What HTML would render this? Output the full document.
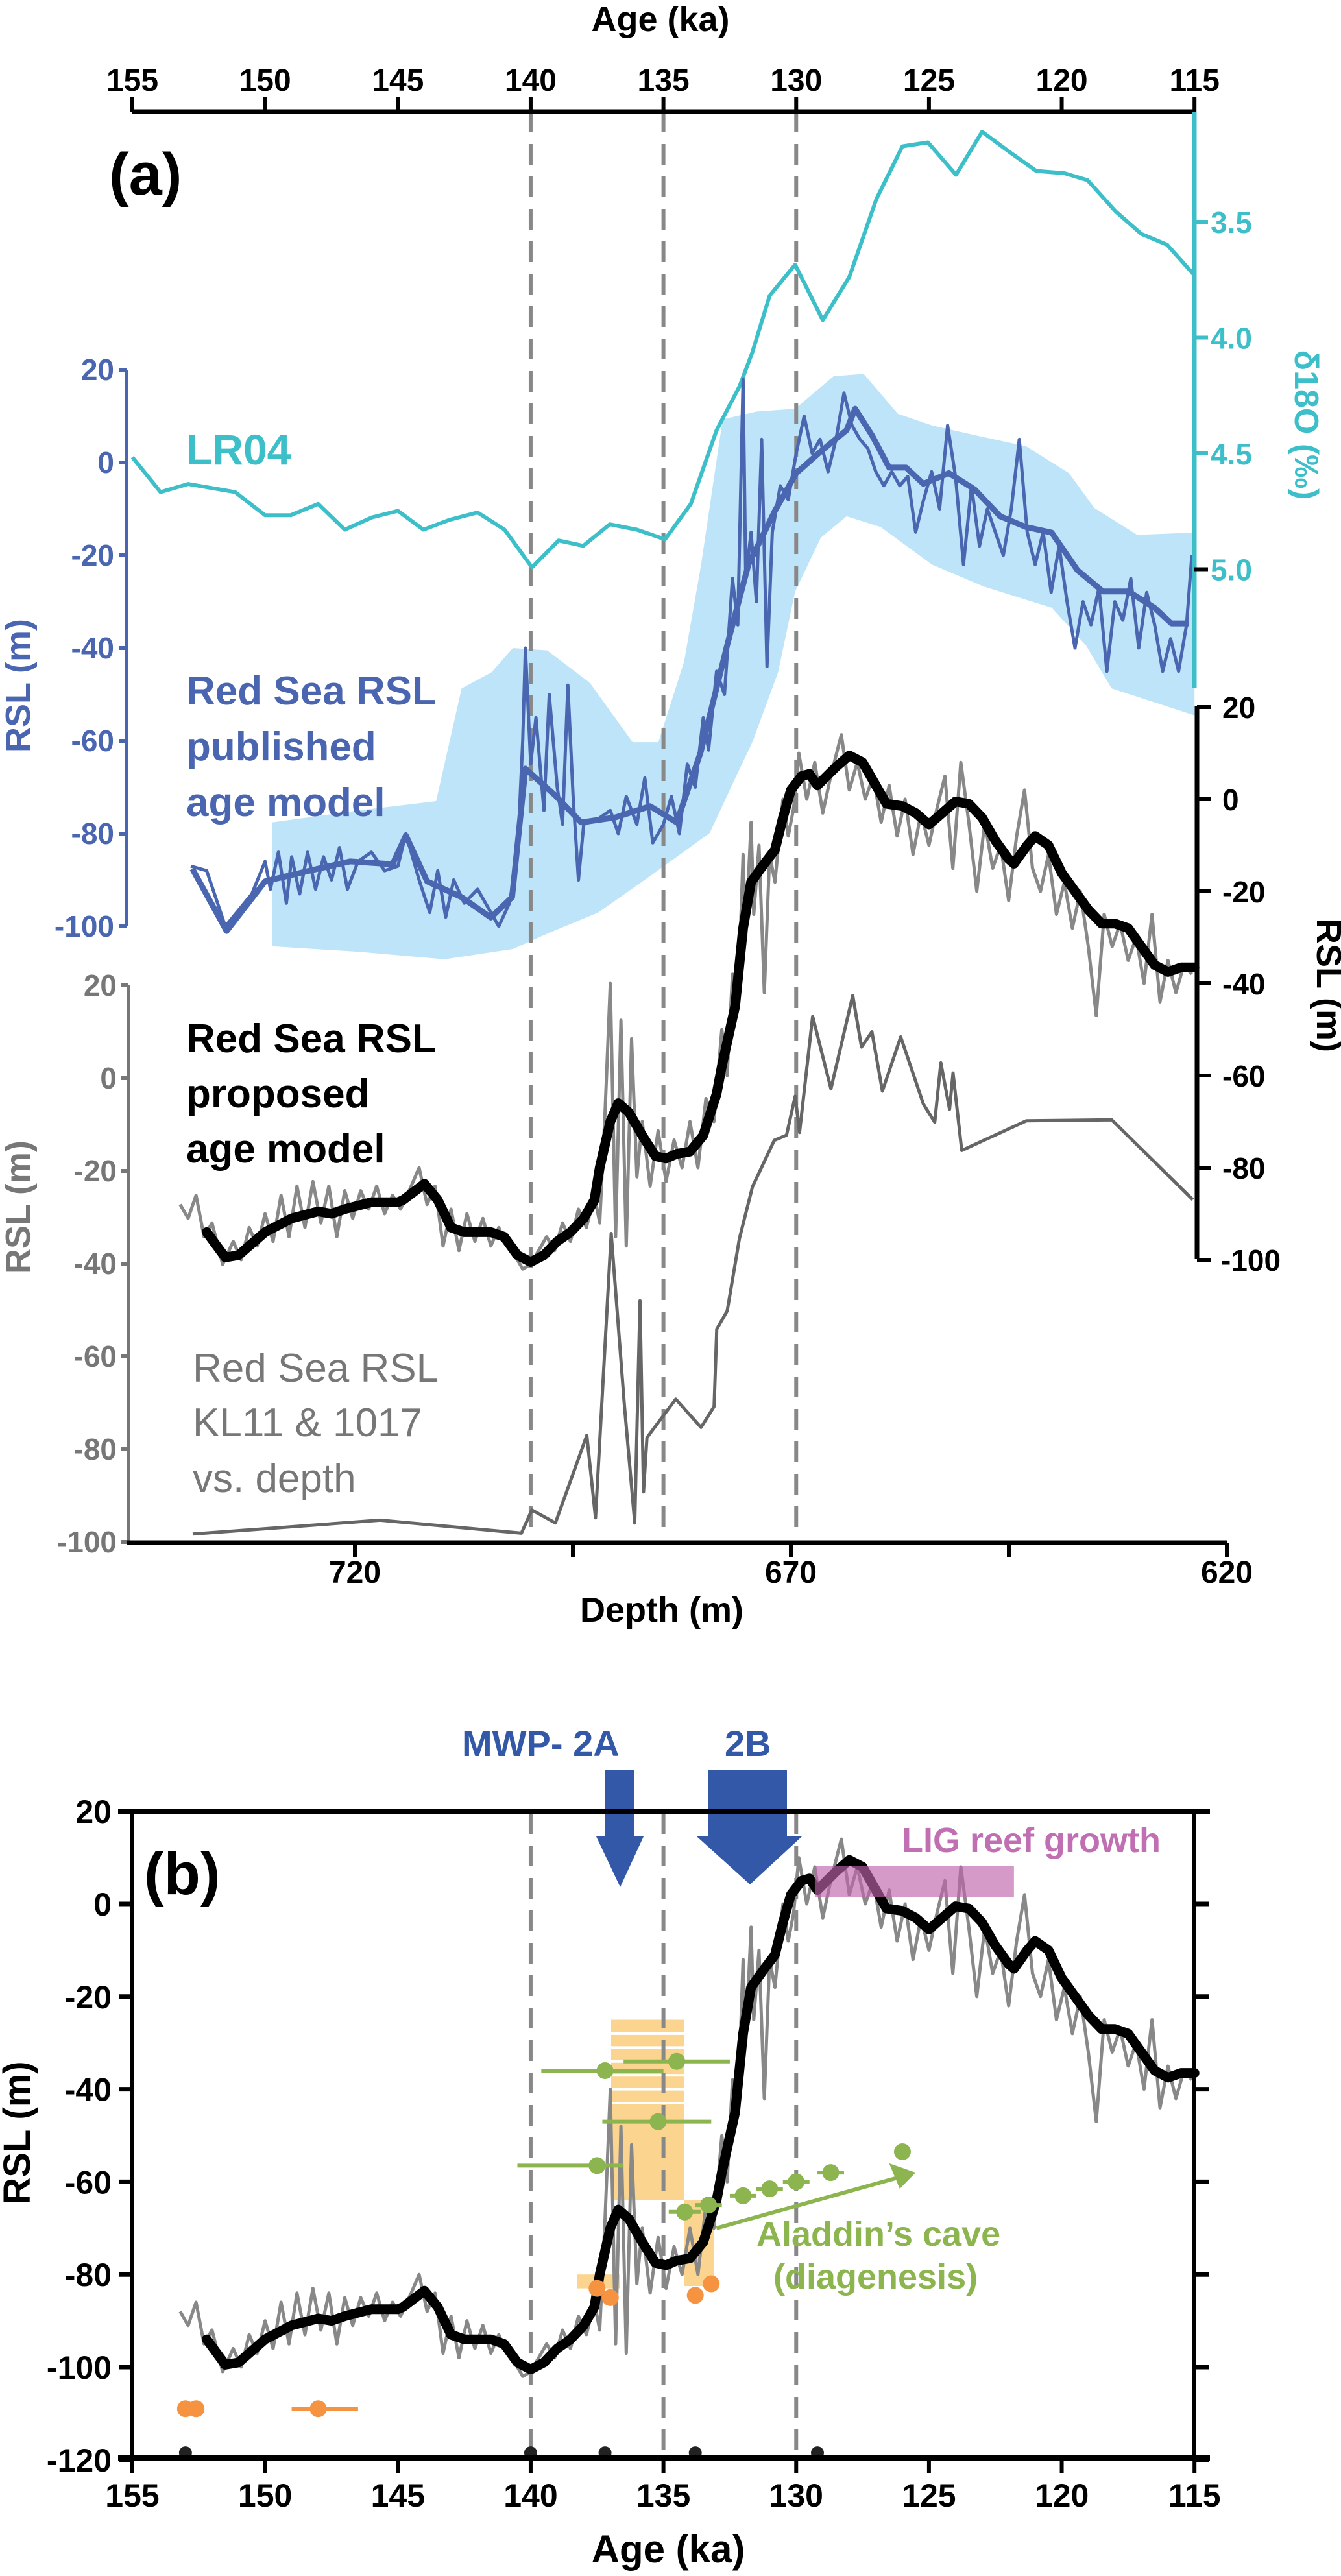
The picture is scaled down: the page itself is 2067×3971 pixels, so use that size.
<!DOCTYPE html>
<html><head><meta charset="utf-8"><style>
html,body{margin:0;padding:0;background:#fff;}
svg text{font-family:"Liberation Sans",Arial,sans-serif;}
</style></head>
<body>
<svg id="fig" xmlns="http://www.w3.org/2000/svg" width="2067" height="3966" viewBox="0 0 2067 3966">
<rect width="2067" height="3966" fill="#fff"/>
</svg>
<script>
// ---- DATA ----
const lr04Age=[155,153.94,152.9,151.13,150.0,149.04,148.0,147.0,145.97,145.0,144.04,143.07,142.0,140.98,139.95,138.95,138.02,137.02,136.0,134.94,133.97,133.0,132.13,131.65,131.0,130.04,129.0,128.0,126.98,126.0,125.04,123.98,123.0,121.9,120.96,119.9,119.03,117.97,117.0,116.03,115];
const lr04Val=[4.516,4.667,4.632,4.667,4.767,4.767,4.718,4.829,4.776,4.748,4.829,4.787,4.755,4.829,4.992,4.876,4.899,4.806,4.829,4.871,4.718,4.40,4.209,4.063,3.819,3.685,3.924,3.738,3.401,3.174,3.157,3.297,3.111,3.204,3.28,3.29,3.32,3.455,3.552,3.599,3.731];
const bandAge=[149.74,146.46,143.56,142.6,141.47,140.67,139.38,137.77,136.16,135.19,134.22,133.58,132.77,131.49,130.04,128.59,127.46,126.17,124.89,123.28,121.34,119.73,118.77,117.16,115];
const bandTop=[-77.6,-75,-73,-48.7,-45.2,-40,-40.5,-47.5,-60.3,-60.3,-42.9,-22,9.3,11,11.6,18.6,19.1,10.5,8,5.9,3.5,-2.3,-9.8,-15.6,-15.1];
const bandBotAge=[149.74,146.46,143.24,140.67,139.38,137.45,135.51,133.26,132.29,131.65,130.68,130.04,129.07,128.1,126.82,124.89,122.95,120.38,119.09,118.12,115];
const bandBot=[-104.3,-105.5,-107.1,-104.9,-101.6,-97,-89.2,-79.9,-68,-60.3,-45.2,-27.8,-16.2,-11.6,-13.9,-22,-26.7,-31.3,-39.4,-48.7,-54.5];
const pubSmoothAge=[152.74,151.45,150,148.4,146.8,145.2,144.7,143.9,142.6,141.5,140.7,140.2,139.05,138.1,136.8,135.5,134.5,133.6,132.6,131.8,130.8,130.0,129.07,128.1,127.78,127.14,126.5,125.86,125.21,124.25,123.28,122.32,121.35,120.38,119.41,118.45,117.48,116.51,115.87,115.2];
const pubSmoothVal=[-87.6,-101,-90.3,-88.1,-86,-86.6,-80.4,-90.3,-93.7,-98.1,-93.7,-66,-71.9,-77.6,-76.5,-74.1,-77.6,-62.5,-39.4,-22,-10.4,-2.3,2.4,7,11.6,5.8,-1.1,-1.1,-4.6,-2.3,-5.8,-11.6,-13.9,-15.1,-23.2,-27.8,-27.8,-31.3,-34.7,-34.7];
const pubRawAge=[152.8,152.2,151.5,150.5,150,149.8,149.5,149.2,149,148.7,148.4,148.1,147.8,147.5,147.2,146.9,146.5,146,145.5,145,144.7,144.2,143.8,143.5,143.2,142.9,142.5,142,141.5,141.2,140.8,140.5,140.3,140.2,140,139.8,139.5,139.3,139.0,138.8,138.6,138.4,138.2,138,137.5,137,136.7,136.4,136,135.7,135.4,135,134.7,134.4,134.1,133.8,133.5,133.3,133,132.7,132.4,132.2,132,131.9,131.7,131.5,131.3,131.1,130.9,130.6,130.3,130,129.7,129.4,129.1,128.8,128.5,128.2,127.9,127.6,127.3,127,126.7,126.4,126.1,125.8,125.5,125.2,124.9,124.6,124.3,124,123.7,123.4,123.1,122.8,122.5,122.2,121.9,121.6,121.3,121,120.7,120.4,120.1,119.8,119.5,119.2,118.9,118.6,118.3,118,117.7,117.4,117.1,116.8,116.5,116.2,115.9,115.6,115.3,115.1];
const pubRawVal=[-87,-88,-100,-93,-86,-92,-84,-95,-85,-93,-84,-92,-85,-90,-83,-92,-86,-84,-88,-87,-80,-90,-97,-88,-98,-90,-95,-92,-97,-100,-95,-85,-60,-40,-65,-55,-75,-50,-70,-78,-48,-72,-90,-78,-77,-75,-80,-72,-78,-68,-82,-78,-72,-80,-65,-70,-55,-62,-45,-50,-25,-35,18,-25,-15,-30,5,-44,-15,-5,-8,2,10,2,5,-2,5,15,8,5,3,-2,-5,-2,-5,-3,-15,-8,-2,-10,8,-3,-22,-5,-18,-10,-15,-20,-10,5,-15,-22,-15,-28,-18,-30,-40,-30,-35,-27,-45,-30,-34,-25,-40,-28,-35,-45,-38,-45,-35,-20];
const propAge=[152.2,151.5,151,150,149,148,147.5,147,146,145,144.8,144,143.5,143,142.5,141.5,141,140.5,140,139.5,139,138.5,138,137.6,137.4,137.0,136.7,136.3,135.8,135.3,134.9,134.5,134,133.5,133,132.8,132.3,132,131.7,131.2,130.8,130.5,130.2,129.8,129.5,129.2,128.5,128,127.5,127,126.6,126,125.5,125,124.5,124,123.5,123,122.5,122,121.8,121.3,121,120.5,120,119.5,119,118.5,118,117.5,117,116.5,116,115.5,115];
const propVal=[-94,-99.5,-99,-94,-91,-89.5,-90,-89,-87.5,-87.5,-87,-83.5,-87,-93,-94,-94,-95,-99,-100.5,-99,-96,-94,-91,-87,-80,-70,-66,-68,-73,-77.5,-78,-77,-76.5,-73,-64,-58,-45,-28,-18,-14,-11,-4,2,5,5.5,3,7,9.5,8,3,-1,-1.5,-3,-5.5,-3,-0.5,-1,-4,-9,-13,-14,-10,-8,-10,-16,-20,-24,-27,-27,-28,-32,-36,-37.5,-36.5,-36.5];
const rawAge=[153.2,152.9,152.6,152.3,152,151.6,151.2,150.9,150.6,150.3,150,149.7,149.4,149.1,148.8,148.5,148.2,147.9,147.6,147.3,147,146.7,146.4,146.1,145.8,145.5,145.2,144.9,144.5,144.2,143.9,143.6,143.3,143,142.7,142.4,142.1,141.8,141.5,141.2,140.9,140.6,140.3,140,139.7,139.4,139.1,138.8,138.5,138.2,137.9,137.6,137.4,137.2,137.0,136.8,136.6,136.4,136.2,136,135.8,135.5,135.2,134.9,134.6,134.3,134,133.7,133.4,133.1,132.8,132.6,132.4,132.2,132,131.9,131.7,131.6,131.4,131.2,131,130.8,130.5,130.3,130.1,129.9,129.6,129.3,129,128.7,128.3,128,127.7,127.4,127.1,126.8,126.5,126.2,125.9,125.6,125.3,125,124.7,124.4,124.1,123.8,123.5,123.2,122.9,122.6,122.3,122,121.7,121.4,121.1,120.8,120.5,120.2,119.9,119.6,119.3,119,118.7,118.4,118.1,117.8,117.5,117.2,116.9,116.6,116.3,116,115.7,115.4,115.1];
const rawVal=[-88,-91,-86,-95,-92,-101,-96,-100,-93,-97,-90,-96,-86,-95,-84,-93,-83,-92,-84,-95,-85,-91,-85,-89,-84,-90,-86,-89,-84,-80,-88,-84,-97,-89,-98,-90,-96,-91,-97,-93,-97,-99,-102,-101,-98,-95,-98,-92,-96,-89,-93,-86,-92,-68,-40,-95,-48,-97,-52,-82,-70,-84,-72,-83,-74,-80,-70,-80,-65,-70,-50,-60,-38,-45,-12,-30,-5,-25,-10,-42,-12,-18,0,-8,-2,10,0,8,-3,5,14,2,8,0,5,-5,3,-8,0,-12,-3,-10,-2,5,-15,8,-5,-20,-5,-15,-10,-22,-8,2,-15,-20,-12,-25,-18,-28,-20,-32,-47,-25,-32,-27,-35,-30,-40,-25,-44,-35,-42,-36,-38];
const depthD=[738.6,717.1,700.9,699.7,697.0,693.4,692.4,690.6,689.1,687.9,687.3,686.9,686.5,683.2,680.3,678.8,678.5,677.3,675.9,674.4,671.9,670.5,669.5,669.0,667.5,665.4,662.9,661.9,660.7,659.5,657.4,654.8,653.5,652.8,651.8,651.4,650.4,643.0,633.2,623.9];
const depthVal=[-98.3,-95.3,-98.1,-93.1,-95.9,-77.0,-94.8,-33.5,-70.3,-95.9,-48.0,-89.2,-77.5,-69.2,-75.3,-70.8,-54.1,-50.2,-34.6,-23.4,-13.4,-12.3,-3.9,-11.7,13.3,-2.3,17.8,6.7,10.0,-2.8,8.9,-5.6,-9.5,3.3,-6.7,1.1,-15.6,-9.2,-9.0,-26.2];
const ageTicks=[155,150,145,140,135,130,125,120,115];
const depthTicks=[720,695,670,645,620];
const depthTickLabels=[720,670,620];
const d18Ticks=[3.5,4.0,4.5,5.0];
const rslTicks=[20,0,-20,-40,-60,-80,-100];
const rslTicksB=[20,0,-20,-40,-60,-80,-100,-120];
const dashedAges=[140,135,130];
const greenAge=[137.2,134.5,135.2,137.5,134.2,133.3,132,131,130,128.7,126];
const greenVal=[-36,-34,-47,-56.5,-66.5,-65,-63,-61.5,-60,-58,-53.5];
const greenErrLo=[139.6,136.5,137.3,140.5,134.8,133.8,132.5,131.5,130.5,129.2,126];
const greenErrHi=[135,132.5,133.2,136.5,133.6,132.8,131.5,130.5,129.5,128.2,126];
const orangeAge=[137.5,137,133.8,133.2,153,152.6,148];
const orangeVal=[-83,-85,-84.5,-82,-109,-109,-109];
const orangeErrLo=[137.5,137,133.8,133.2,153.3,153,149];
const orangeErrHi=[137.5,137,133.8,133.2,152.7,152.3,146.5];
const blackDotAge=[153,140,137.2,133.8,129.2];
const blackDotVal=[-118.5,-118.5,-118.5,-118.5,-118.5];

// ---- SCALES ----
const X=a=>204+(155-a)*40.93;
const XD=d=>547+(720-d)*13.44;
const YT=v=>342+(v-3.5)*357;
const YB=v=>713-v*7.15;       // published (blue)
const YP=v=>1232-v*7.1;       // proposed (black, panel a)
const YG=v=>1662-v*7.15;      // gray depth
const YR=v=>2935-v*7.14;      // panel b

const svg=document.getElementById('fig');
const NS='http://www.w3.org/2000/svg';
function el(tag,attrs,parent){const e=document.createElementNS(NS,tag);for(const k in attrs)e.setAttribute(k,attrs[k]);(parent||svg).appendChild(e);return e;}
function pts(xs,ys,fx,fy){return xs.map((a,i)=>fx(a).toFixed(1)+','+fy(ys[i]).toFixed(1)).join(' ');}
function txt(s,x,y,size,fill,opts){const t=el('text',Object.assign({x:x,y:y,'font-size':size,fill:fill,'font-weight':'bold'},opts||{}));t.textContent=s;return t;}

// ================= PANEL A =================
// band
let band=el('polygon',{points:pts(bandAge,bandTop,X,YB)+' '+pts(bandBotAge.slice().reverse(),bandBot.slice().reverse(),X,YB),fill:'#bde4f8'});


// dashed lines panel a
dashedAges.forEach(a=>{
 const l=el('line',{x1:X(a),x2:X(a),y1:172,y2:2370,stroke:'#888','stroke-width':6,'stroke-dasharray':'32 18'});
 
 
});
// LR04
let lr=el('polyline',{points:pts(lr04Age,lr04Val,X,YT),fill:'none',stroke:'#3dbfc9','stroke-width':6,'stroke-linejoin':'round'});


// published raw + smooth
let pr=el('polyline',{points:pts(pubRawAge,pubRawVal,X,YB),fill:'none',stroke:'#4a66b0','stroke-width':5,'stroke-linejoin':'round'});


let ps=el('polyline',{points:pts(pubSmoothAge,pubSmoothVal,X,YB),fill:'none',stroke:'#4a66b0','stroke-width':9,'stroke-linejoin':'round'});


// proposed raw + smooth (panel a)
let ra=el('polyline',{points:pts(rawAge,rawVal,X,YP),fill:'none',stroke:'#888','stroke-width':5,'stroke-linejoin':'round'});


let sa=el('polyline',{points:pts(propAge,propVal,X,YP),fill:'none',stroke:'#000','stroke-width':15,'stroke-linejoin':'round','stroke-linecap':'round'});


// depth curve
let dc=el('polyline',{points:pts(depthD,depthVal,XD,YG),fill:'none',stroke:'#666','stroke-width':5,'stroke-linejoin':'round'});



// top age axis
let ta=el('line',{x1:204,x2:1841,y1:172,y2:172,stroke:'#000','stroke-width':7});


ageTicks.forEach(a=>{
 el('line',{x1:X(a),x2:X(a),y1:150,y2:172,stroke:'#000','stroke-width':6});
 const t=txt(String(a),X(a),140,48,'#000',{'text-anchor':'middle'});
 
 
});
let tat=txt('Age (ka)',1018,48,54,'#000',{'text-anchor':'middle'});


let la=txt('(a)',168,300,92,'#000');



// teal right axis
let tax=el('line',{x1:1841,x2:1841,y1:172,y2:1061,stroke:'#3dbfc9','stroke-width':7});


d18Ticks.forEach(v=>{
 el('line',{x1:1841,x2:1862,y1:YT(v),y2:YT(v),stroke:v===5.0?'#000':'#3dbfc9','stroke-width':6});
 const t=txt(v.toFixed(1),1866,YT(v)+17,46,'#3dbfc9');
 
 
});
let dt=txt('δ18O (‰)',0,0,52,'#3dbfc9',{'text-anchor':'middle',transform:'translate(1996,655) rotate(90)'});



// blue left axis
let bax=el('line',{x1:195,x2:195,y1:570,y2:1428,stroke:'#4a66b0','stroke-width':6});


rslTicks.forEach(v=>{
 el('line',{x1:183,x2:195,y1:YB(v),y2:YB(v),stroke:'#4a66b0','stroke-width':6});
 const t=txt(String(v),176,YB(v)+16,46,'#4a66b0',{'text-anchor':'end'});
 
 
});
let bt=txt('RSL (m)',0,0,54,'#4a66b0',{'text-anchor':'middle',transform:'translate(46,1057) rotate(-90)'});



// black right axis (proposed)
let kax=el('line',{x1:1845,x2:1845,y1:1088,y2:1941,stroke:'#000','stroke-width':7});


rslTicks.forEach(v=>{
 el('line',{x1:1845,x2:1866,y1:YP(v),y2:YP(v),stroke:'#000','stroke-width':6});
 const t=txt(String(v),v===-100?1882:1884,YP(v)+17,46,'#000');
 
 
});
let kt=txt('RSL (m)',0,0,54,'#000',{'text-anchor':'middle',transform:'translate(2030,1519) rotate(90)'});



// gray left axis
let gax=el('line',{x1:198,x2:198,y1:1519,y2:2378,stroke:'#777','stroke-width':6});


rslTicks.forEach(v=>{
 el('line',{x1:186,x2:198,y1:YG(v),y2:YG(v),stroke:'#777','stroke-width':6});
 const t=txt(String(v),180,YG(v)+16,46,'#777',{'text-anchor':'end'});
 
 
});
let gt=txt('RSL  (m)',0,0,54,'#777',{'text-anchor':'middle',transform:'translate(46,1861) rotate(-90)'});



// depth axis
let dax=el('line',{x1:195,x2:1891,y1:2378,y2:2378,stroke:'#000','stroke-width':7});


depthTicks.forEach(d=>{el('line',{x1:XD(d),x2:XD(d),y1:2378,y2:2400,stroke:'#000','stroke-width':6});});
depthTickLabels.forEach(d=>{
 const t=txt(String(d),XD(d),2440,48,'#000',{'text-anchor':'middle'});
 
 
});
let dtt=txt('Depth (m)',1020,2500,54,'#000',{'text-anchor':'middle'});



// labels panel a
let l1=txt('LR04',287,716,66,'#3dbfc9');


[['Red Sea RSL',1086],['published',1172],['age model',1258]].forEach(([s,y])=>{
 const t=txt(s,287,y,62,'#4a66b0');
 
 
});
[['Red Sea RSL',1622],['proposed',1707],['age model',1792]].forEach(([s,y])=>{
 const t=txt(s,287,y,62,'#000');
 
 
});
[['Red Sea RSL',2130],['KL11 & 1017',2214],['vs. depth',2300]].forEach(([s,y])=>{
 const t=txt(s,297,y,62,'#777',{'font-weight':'normal'});
 
 
});

// ================= PANEL B =================
// orange boxes
let ob1=el('rect',{x:942,y:YR(-25),width:112,height:YR(-64)-YR(-25),fill:'#fbd58f'});


[-28,-31,-34,-37,-40,-43].forEach(v=>{el('rect',{x:942,y:YR(v)-2,width:112,height:4,fill:'#fff'});});
let ob2=el('rect',{x:1054,y:YR(-64),width:46,height:YR(-82.5)-YR(-64),fill:'#fbd58f'});


let ob3=el('rect',{x:890,y:YR(-80),width:66,height:YR(-83)-YR(-80),fill:'#fbd58f'});


// dashed lines b
dashedAges.forEach(a=>{
 const l=el('line',{x1:X(a),x2:X(a),y1:2795,y2:3789,stroke:'#888','stroke-width':6,'stroke-dasharray':'32 18'});
 
 
});
let rb=el('polyline',{points:pts(rawAge,rawVal,X,YR),fill:'none',stroke:'#888','stroke-width':5,'stroke-linejoin':'round'});


let sb=el('polyline',{points:pts(propAge,propVal,X,YR),fill:'none',stroke:'#000','stroke-width':15,'stroke-linejoin':'round','stroke-linecap':'round'});


// LIG box
let lig=el('rect',{x:X(129.3),y:2877,width:X(121.8)-X(129.3),height:47,fill:'rgba(190,100,170,0.65)'});


let ligt=txt('LIG reef growth',1390,2855,54,'#c06fb3');


// green
greenAge.forEach((a,i)=>{
 const g=el('g',{});
 
 
 el('line',{x1:X(greenErrLo[i]),x2:X(greenErrHi[i]),y1:YR(greenVal[i]),y2:YR(greenVal[i]),stroke:'#8cb44f','stroke-width':6},g);
 el('circle',{cx:X(a),cy:YR(greenVal[i]),r:13,fill:'#8cb44f'},g);
});
let ga=el('line',{x1:X(133),y1:YR(-70),x2:X(125.8),y2:YR(-58.5),stroke:'#8cb44f','stroke-width':6});


el('polygon',{points:`${X(125.5)},${YR(-58)} ${X(126.5)},${YR(-56)} ${X(126.1)},${YR(-61.5)}`,fill:'#8cb44f'});
let at1=txt('Aladdin’s cave',1166,3462,54,'#8cb44f');


let at2=txt('(diagenesis)',1192,3528,54,'#8cb44f');


// orange
orangeAge.forEach((a,i)=>{
 const g=el('g',{});
 
 
 el('line',{x1:X(orangeErrLo[i]),x2:X(orangeErrHi[i]),y1:YR(orangeVal[i]),y2:YR(orangeVal[i]),stroke:'#f59340','stroke-width':6},g);
 el('circle',{cx:X(a),cy:YR(orangeVal[i]),r:13,fill:'#f59340'},g);
});
blackDotAge.forEach((a,i)=>{
 const c=el('circle',{cx:X(a),cy:YR(blackDotVal[i]),r:10,fill:'#222'});
 
 
});
// arrows
let a2a=el('polygon',{points:'933,2729 978,2729 978,2831 992,2831 956,2909 919,2831 933,2831',fill:'#3358a8'});


let a2b=el('polygon',{points:'1091,2729 1213,2729 1213,2831 1236,2831 1156,2905 1074,2831 1091,2831',fill:'#3358a8'});


let mw=txt('MWP-  2A',712,2707,56,'#3358a8');


let mw2=txt('2B',1117,2707,56,'#3358a8');


// axes b
let bt1=el('line',{x1:182,x2:1865,y1:2792,y2:2792,stroke:'#000','stroke-width':8});


let bb1=el('line',{x1:182,x2:1865,y1:3789,y2:3789,stroke:'#000','stroke-width':8});


let bl=el('line',{x1:204,x2:204,y1:2792,y2:3789,stroke:'#000','stroke-width':6});


let br=el('line',{x1:1841,x2:1841,y1:2792,y2:3789,stroke:'#000','stroke-width':6});


rslTicksB.forEach(v=>{
 el('line',{x1:184,x2:204,y1:YR(v),y2:YR(v),stroke:'#000','stroke-width':7});
 el('line',{x1:1841,x2:1863,y1:YR(v),y2:YR(v),stroke:'#000','stroke-width':7});
 const t=txt(String(v),172,YR(v)+18,50,'#000',{'text-anchor':'end'});
 
 
});
ageTicks.forEach(a=>{
 el('line',{x1:X(a),x2:X(a),y1:3789,y2:3812,stroke:'#000','stroke-width':6});
 const t=txt(String(a),X(a),3864,50,'#000',{'text-anchor':'middle'});
 
 
});
let bxt=txt('Age (ka)',1030,3950,60,'#000',{'text-anchor':'middle'});


let byt=txt('RSL (m)',0,0,58,'#000',{'text-anchor':'middle',transform:'translate(46,3288) rotate(-90)'});


let lb=txt('(b)',222,2920,92,'#000');


</script>
</body></html>
